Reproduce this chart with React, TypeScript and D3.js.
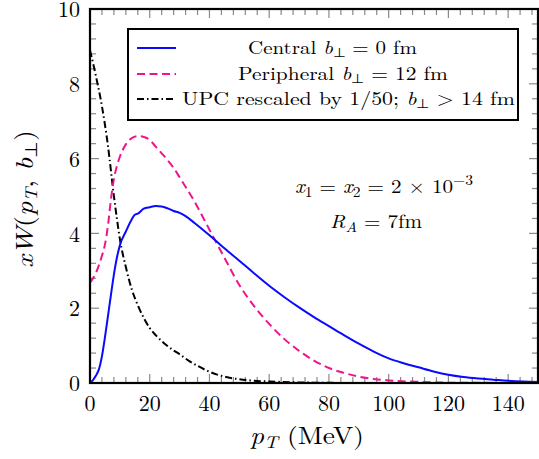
import React from "react";
import * as d3 from "d3";

const centralX = [0, 1, 2, 3, 4, 5, 6, 7, 8, 9, 10, 12, 14, 15, 16, 18, 20, 22, 24, 26, 28, 30, 32, 35, 40, 45, 50, 55, 60, 65, 70, 75, 80, 85, 90, 95, 100, 105, 110, 115, 120, 125, 130, 135, 140, 145, 150];
const centralY = [0, 0.08, 0.2, 0.37, 0.72, 1.22, 1.78, 2.35, 2.9, 3.35, 3.68, 4.05, 4.38, 4.5, 4.53, 4.66, 4.7, 4.73, 4.72, 4.67, 4.6, 4.55, 4.46, 4.28, 3.95, 3.6, 3.27, 2.93, 2.6, 2.3, 2.02, 1.76, 1.52, 1.28, 1.05, 0.84, 0.66, 0.53, 0.42, 0.31, 0.22, 0.16, 0.12, 0.09, 0.06, 0.04, 0.03];

const periphX = [0, 2, 4, 5, 6, 7, 8, 9, 10, 12, 14, 16, 18, 20, 22, 25, 28, 30, 35, 40, 45, 50, 55, 60, 65, 70, 75, 80, 85, 90, 95, 100, 110, 120, 130, 150];
const periphY = [2.68, 2.95, 3.4, 3.7, 4.2, 4.9, 5.45, 5.8, 6.05, 6.38, 6.55, 6.6, 6.58, 6.5, 6.32, 6.05, 5.75, 5.5, 4.85, 4.1, 3.35, 2.62, 2.05, 1.58, 1.18, 0.86, 0.6, 0.4, 0.27, 0.17, 0.11, 0.07, 0.03, 0.01, 0.005, 0];

const upcX = [0, 2, 4, 6, 8, 9, 10, 12, 14, 16, 18, 20, 22, 25, 28, 30, 33, 36, 40, 45, 50, 55, 60, 70, 80, 90, 150];
const upcY = [8.9, 8.2, 7.4, 6.35, 5.0, 4.4, 3.85, 3.1, 2.5, 2.08, 1.74, 1.47, 1.28, 1.05, 0.87, 0.77, 0.6, 0.46, 0.3, 0.17, 0.1, 0.06, 0.04, 0.015, 0.005, 0, 0];

const xTicks = [0, 20, 40, 60, 80, 100, 120, 140];
const yTicks = [0, 2, 4, 6, 8, 10];

const BLUE = "#0a0aff";
const PINK = "#f0148c";
const GREY = "#8a8a8a";
const FONT = "'Latin Modern Roman', 'Liberation Serif', serif";

export default function App() {
  const L = 90, R = 538, T = 9, B = 383;
  const x = d3.scaleLinear().domain([0, 150]).range([L, R]);
  const y = d3.scaleLinear().domain([0, 10]).range([B, T]);
  const line = d3.line<[number, number]>().x(d => x(d[0])).y(d => y(d[1])).curve(d3.curveMonotoneX);
  const zip = (a: number[], b: number[]) => a.map((v, i) => [v, b[i]] as [number, number]);

  const xMinor = d3.range(0, 151, 4);
  const yMinor = d3.range(0, 10.01, 0.4);

  const tickEls: React.ReactNode[] = [];
  xMinor.forEach((v, i) => {
    const major = v % 20 === 0;
    const len = major ? 9 : 6;
    tickEls.push(<line key={"xb" + i} x1={x(v)} x2={x(v)} y1={B} y2={B - len} stroke={GREY} strokeWidth={1.2} />);
    tickEls.push(<line key={"xt" + i} x1={x(v)} x2={x(v)} y1={T} y2={T + len} stroke={GREY} strokeWidth={1.2} />);
  });
  yMinor.forEach((v, i) => {
    const major = Math.abs(v / 2 - Math.round(v / 2)) < 1e-6;
    const len = major ? 9 : 6;
    tickEls.push(<line key={"yl" + i} x1={L} x2={L + len} y1={y(v)} y2={y(v)} stroke={GREY} strokeWidth={1.2} />);
    tickEls.push(<line key={"yr" + i} x1={R} x2={R - len} y1={y(v)} y2={y(v)} stroke={GREY} strokeWidth={1.2} />);
  });

  const legX = 128, legY = 29, legW = 390, legH = 91;
  const rows = [54, 80, 105];
  const rowMid = [48, 74, 99];

  return (
    <svg width={539} height={459} style={{ position: "absolute", left: 0, top: 0, background: "#fff", fontFamily: FONT }}>
      <defs>
        <clipPath id="plotclip">
          <rect x={L} y={T} width={R - L} height={B - T} />
        </clipPath>
      </defs>
      {tickEls}
      <g clipPath="url(#plotclip)" fill="none" strokeWidth={2}>
        <path d={line(zip(upcX, upcY)) || ""} stroke="#000" strokeDasharray="7 3 1.5 3" />
        <path d={line(zip(periphX, periphY)) || ""} stroke={PINK} strokeDasharray="8 4.5" />
        <path d={line(zip(centralX, centralY)) || ""} stroke={BLUE} />
      </g>
      <rect x={L} y={T} width={R - L} height={B - T} fill="none" stroke="#000" strokeWidth={2.2} />

      {xTicks.map(v => (
        <text key={"xl" + v} x={x(v)} y={411} textAnchor="middle" fontSize={22}>{v}</text>
      ))}
      {yTicks.map(v => (
        <text key={"yl" + v} x={80} y={y(v) + 8.2} textAnchor="end" fontSize={22}>{v}</text>
      ))}

      <text x={250} y={444} fontSize={24} textLength={114} lengthAdjust="spacingAndGlyphs">
        <tspan fontStyle="italic">p</tspan>
        <tspan fontStyle="italic" fontSize={17} dy={4}>T</tspan>
        <tspan dy={-4}>  (MeV)</tspan>
      </text>

      <text transform={`translate(33,268) rotate(-90)`} fontSize={25} textLength={138} lengthAdjust="spacingAndGlyphs">
        <tspan fontStyle="italic">xW</tspan>
        <tspan>(</tspan>
        <tspan fontStyle="italic">p</tspan>
        <tspan fontStyle="italic" fontSize={17} dy={4}>T</tspan>
        <tspan dy={-4}>, </tspan>
        <tspan fontStyle="italic">b</tspan>
        <tspan fontSize={17} dy={4}>⊥</tspan>
        <tspan dy={-4}>)</tspan>
      </text>

      <rect x={legX} y={legY} width={legW} height={legH} fill="#fff" stroke="#000" strokeWidth={2} />
      <line x1={137} x2={176} y1={rowMid[0]} y2={rowMid[0]} stroke={BLUE} strokeWidth={2} />
      <line x1={137} x2={176} y1={rowMid[1]} y2={rowMid[1]} stroke={PINK} strokeWidth={2} strokeDasharray="8 4.5" />
      <line x1={137} x2={176} y1={rowMid[2]} y2={rowMid[2]} stroke="#000" strokeWidth={2} strokeDasharray="7 3 1.5 3" />

      <text x={248} y={rows[0]} fontSize={18.5} textLength={169} lengthAdjust="spacingAndGlyphs">
        <tspan>Central </tspan>
        <tspan fontStyle="italic">b</tspan>
        <tspan fontSize={13} dy={3}>⊥</tspan>
        <tspan dy={-3}> = 0 fm</tspan>
      </text>
      <text x={238} y={rows[1]} fontSize={18.5} textLength={210} lengthAdjust="spacingAndGlyphs">
        <tspan>Peripheral </tspan>
        <tspan fontStyle="italic">b</tspan>
        <tspan fontSize={13} dy={3}>⊥</tspan>
        <tspan dy={-3}> = 12  fm</tspan>
      </text>
      <text x={182} y={rows[2]} fontSize={18.5} textLength={333} lengthAdjust="spacingAndGlyphs">
        <tspan>UPC rescaled by 1/50; </tspan>
        <tspan fontStyle="italic">b</tspan>
        <tspan fontSize={13} dy={3}>⊥</tspan>
        <tspan dy={-3}> &gt; 14 fm</tspan>
      </text>

      <text x={295} y={193} fontSize={19} textLength={178} lengthAdjust="spacingAndGlyphs">
        <tspan fontStyle="italic">x</tspan>
        <tspan fontSize={14} dy={4}>1</tspan>
        <tspan dy={-4}> = </tspan>
        <tspan fontStyle="italic">x</tspan>
        <tspan fontSize={14} dy={4}>2</tspan>
        <tspan dy={-4}> = 2 × 10</tspan>
        <tspan fontSize={14} dy={-8}>−3</tspan>
      </text>
      <text x={330} y={228} fontSize={19} textLength={92} lengthAdjust="spacingAndGlyphs">
        <tspan fontStyle="italic">R</tspan>
        <tspan fontStyle="italic" fontSize={14} dy={4}>A</tspan>
        <tspan dy={-4}> = 7fm</tspan>
      </text>
    </svg>
  );
}
